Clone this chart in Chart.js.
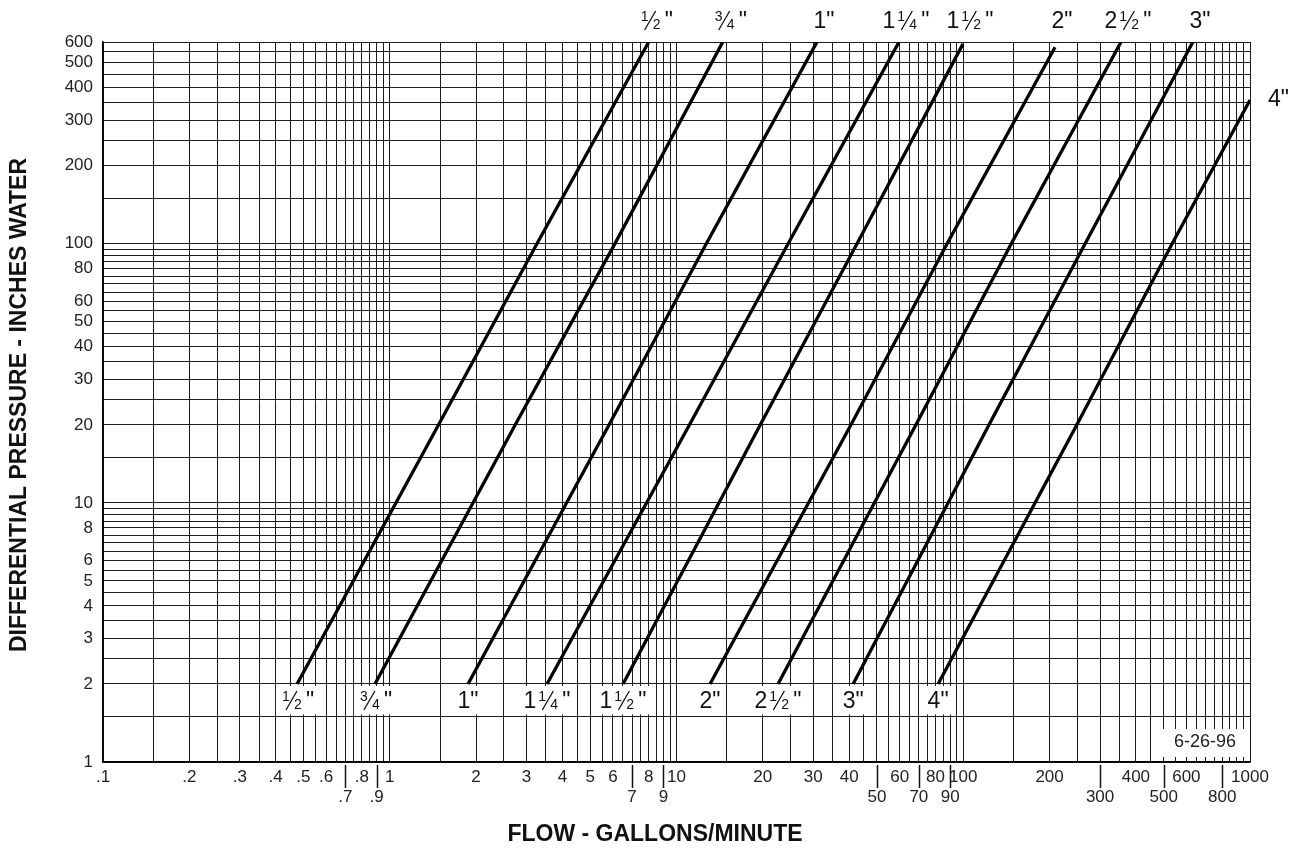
<!DOCTYPE html>
<html>
<head>
<meta charset="utf-8">
<title>Flow vs differential pressure</title>
<script src="https://cdn.jsdelivr.net/npm/chart.js@4.4.1/dist/chart.umd.min.js"></script>
<style>
  html, body { margin: 0; padding: 0; background: #fff; }
  #wrap { width: 1298px; height: 848px; }
</style>
</head>
<body>
<div id="wrap"><canvas id="flowChart" width="1298" height="848"></canvas></div>
<script>
// Tamaños de tubería (una curva por tamaño)
const pipeSizes = ['½"', '¾"', '1"', '1¼"', '1½"', '2"', '2½"', '3"', '4"'];

// Caudal (gpm) leído sobre cada curva a 2, 20 y 100 pulgadas de agua
const pressLevels = [2, 20, 100];
const flowAt2   = [0.475, 0.888, 1.875, 3.535, 6.51, 13.09, 22.6, 41.3, 81.7];
const flowAt20  = [1.48, 2.74, 5.82, 11.1, 19.6, 40.6, 68.4, 123, 249];
const flowAt100 = [3.26, 6.10, 12.7, 24.5, 42.6, 87.8, 147, 266, 535];
// Extremo superior de cada curva
const flowTop  = [8.0, 14.5, 30.9, 59.7, 99.8, 209, 355, 632, 1000];
const pressTop = [600, 600, 600, 600, 590, 573, 600, 600, 358];

// Etiquetas de los ejes
const yTickLabels = [1, 2, 3, 4, 5, 6, 8, 10, 20, 30, 40, 50, 60, 80, 100, 200, 300, 400, 500, 600];
const xTickRow1 = [0.1, 0.2, 0.3, 0.4, 0.5, 0.6, 0.8, 1, 2, 3, 4, 5, 6, 8, 10, 20, 30, 40, 60, 80, 100, 200, 400, 600, 1000];
const xTickRow2 = [0.7, 0.9, 7, 9, 50, 70, 90, 300, 500, 800];

// Cuadrícula del papel log-log
const gridSteps = [1, 1.5, 2, 2.5, 3, 3.5, 4, 4.5, 5, 5.5, 6, 6.5, 7, 7.5, 8, 8.5, 9, 9.5];
const xDecades = [0.1, 1, 10, 100];
const yDecades = [1, 10, 100];

const FONT = "'Liberation Sans', Arial, Helvetica, sans-serif";
const INK = '#111';

function gridValues(decades, maxValue) {
    const vals = [];
    decades.forEach(d => gridSteps.forEach(s => vals.push(+(s * d).toPrecision(6))));
    vals.push(maxValue);
    return vals.filter((v, i) => v <= maxValue && vals.indexOf(v) === i);
}
const xGrid = gridValues(xDecades, 1000);
const yGrid = gridValues(yDecades, 600);

function inList(v, list) {
    return list.some(t => Math.abs(v - t) < t * 1e-6);
}
function fmt(v) {
    return String(v).replace(/^0\./, '.');
}

// Etiqueta de tamaño con fracción apilada
const fractions = { '½': ['1', '2'], '¼': ['1', '4'], '¾': ['3', '4'] };
const FRAC_W = 26;

function labelParts(text) {
    const m = text.match(/^(\d*)([½¼¾]?)(")$/);
    return { whole: m[1], frac: m[2] ? fractions[m[2]] : null, mark: m[3] };
}

function labelWidth(ctx, parts) {
    ctx.font = '23px ' + FONT;
    let w = ctx.measureText(parts.whole + parts.mark).width;
    if (parts.frac) w += FRAC_W;
    return w;
}

function drawSizeLabel(ctx, text, x, baseline, align) {
    const parts = labelParts(text);
    const w = labelWidth(ctx, parts);
    let cx = align === 'left' ? x : x - w / 2;
    ctx.textAlign = 'left';
    ctx.textBaseline = 'alphabetic';
    ctx.fillStyle = INK;
    ctx.font = '23px ' + FONT;
    if (parts.whole) {
        ctx.fillText(parts.whole, cx, baseline);
        cx += ctx.measureText(parts.whole).width;
    }
    if (parts.frac) {
        ctx.font = '14px ' + FONT;
        ctx.fillText(parts.frac[0], cx + 2, baseline - 7);
        ctx.fillText(parts.frac[1], cx + 14, baseline + 1);
        ctx.beginPath();
        ctx.moveTo(cx + 6, baseline + 2);
        ctx.lineTo(cx + 17, baseline - 17);
        ctx.lineWidth = 1.3;
        ctx.strokeStyle = INK;
        ctx.stroke();
        cx += FRAC_W;
        ctx.font = '23px ' + FONT;
    }
    ctx.fillText(parts.mark, cx, baseline);
}

// Anotaciones: etiquetas de curvas, marcas de la segunda fila, títulos, fecha
const annotate = {
    id: 'annotate',
    afterDraw(chart) {
        const ctx = chart.ctx;
        const x = chart.scales.x;
        const y = chart.scales.y;
        ctx.save();

        // marcas largas para las etiquetas de la segunda fila
        ctx.strokeStyle = INK;
        ctx.lineWidth = 1.5;
        xTickRow2.forEach(v => {
            const px = Math.round(x.getPixelForValue(v)) + 0.5;
            ctx.beginPath();
            ctx.moveTo(px, y.bottom + 3);
            ctx.lineTo(px, y.bottom + 26);
            ctx.stroke();
        });

        // etiquetas inferiores sobre recuadro blanco
        const boxTop = y.getPixelForValue(2) + 2;
        const boxBottom = y.getPixelForValue(1.5) - 2;
        pipeSizes.forEach((s, i) => {
            const px = x.getPixelForValue(flowAt2[i]);
            const w = labelWidth(ctx, labelParts(s));
            ctx.fillStyle = '#fff';
            ctx.fillRect(px - w / 2 - 4, boxTop, w + 8, boxBottom - boxTop);
            drawSizeLabel(ctx, s, px, boxTop + 22, 'center');
        });

        // etiquetas superiores
        pipeSizes.forEach((s, i) => {
            const px = x.getPixelForValue(flowTop[i]);
            const py = y.getPixelForValue(pressTop[i]);
            if (flowTop[i] >= 1000) {
                drawSizeLabel(ctx, s, px + 18, py + 6, 'left');
            } else {
                drawSizeLabel(ctx, s, px + 7, 28, 'center');
            }
        });

        // fecha
        ctx.fillStyle = '#fff';
        ctx.fillRect(x.right - 97, y.bottom - 33, 96, 28);
        ctx.fillStyle = '#222';
        ctx.font = '18px ' + FONT;
        ctx.textAlign = 'center';
        ctx.textBaseline = 'middle';
        ctx.fillText('6-26-96', x.right - 45, y.bottom - 20);

        // títulos de ejes
        ctx.fillStyle = INK;
        ctx.font = 'bold 23px ' + FONT;
        ctx.fillText('FLOW - GALLONS/MINUTE', 655, 835);
        ctx.translate(20, 405);
        ctx.rotate(-Math.PI / 2);
        ctx.fillText('DIFFERENTIAL PRESSURE - INCHES WATER', 0, 0);

        ctx.restore();
    }
};

const datasets = pipeSizes.map((s, i) => ({
    label: s,
    data: [
        { x: flowAt2[i], y: pressLevels[0] },
        { x: flowAt20[i], y: pressLevels[1] },
        { x: flowAt100[i], y: pressLevels[2] },
        { x: flowTop[i], y: pressTop[i] }
    ],
    showLine: true,
    borderColor: '#000',
    borderWidth: 3.3,
    pointRadius: 0,
    tension: 0
}));

new Chart(document.getElementById('flowChart'), {
    type: 'scatter',
    data: { datasets: datasets },
    options: {
        responsive: false,
        animation: false,
        layout: { padding: { left: 0, top: 42, right: 48, bottom: 0 } },
        plugins: {
            legend: { display: false },
            tooltip: { enabled: false }
        },
        scales: {
            x: {
                type: 'logarithmic',
                min: 0.1,
                max: 1000,
                afterBuildTicks: scale => { scale.ticks = xGrid.map(v => ({ value: v })); },
                afterFit: scale => { scale.height = 86; },
                grid: { color: '#1c1c1c', lineWidth: 1, drawTicks: false },
                border: { display: true, color: '#000', width: 1.5 },
                ticks: {
                    autoSkip: false,
                    maxRotation: 0,
                    padding: 5,
                    color: '#222',
                    font: { family: FONT, size: 17, lineHeight: 1.2 },
                    callback: v => {
                        if (inList(v, xTickRow1)) return fmt(v);
                        if (inList(v, xTickRow2)) return ['', fmt(v)];
                        return '';
                    }
                }
            },
            y: {
                type: 'logarithmic',
                min: 1,
                max: 600,
                afterBuildTicks: scale => { scale.ticks = yGrid.map(v => ({ value: v })); },
                afterFit: scale => { scale.width = 103; },
                grid: { color: '#1c1c1c', lineWidth: 1, drawTicks: false },
                border: { display: true, color: '#000', width: 1.5 },
                ticks: {
                    autoSkip: false,
                    padding: 10,
                    color: '#222',
                    font: { family: FONT, size: 17, lineHeight: 1.2 },
                    callback: v => inList(v, yTickLabels) ? String(v) : ''
                }
            }
        }
    },
    plugins: [annotate]
});
</script>
</body>
</html>
